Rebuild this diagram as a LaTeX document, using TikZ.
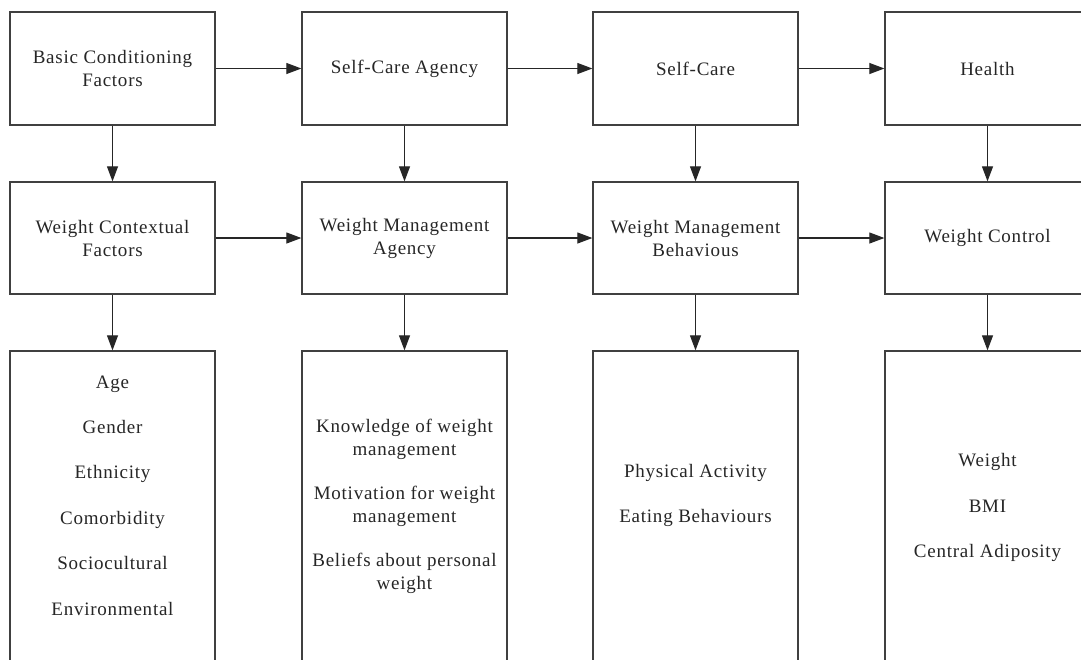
\documentclass[tikz,border=0pt]{standalone}
\usepackage{fontspec}
\setmainfont{Liberation Serif}[LetterSpace=4]
\usetikzlibrary{arrows.meta}
\begin{document}
\begin{tikzpicture}[x=1pt,y=-1pt,
  box/.style={draw=black!75,line width=1.3pt,minimum width=205pt,inner sep=0pt,
    font=\fontsize{19pt}{23pt}\selectfont,align=center,text=black!85},
  toprow/.style={box,minimum height=113pt},
  midrow/.style={box,minimum height=112pt},
  botrow/.style={box,minimum height=369pt},
  lbl/.style={font=\fontsize{19pt}{23pt}\selectfont,align=center,text=black!85,inner sep=0pt},
  arr/.style={draw=black!85,line width=1.1pt,-{Triangle[length=15pt,width=11pt]}}]
\clip (0,0) rectangle (1081,659);
\fill[white] (0,0) rectangle (1081,659);
% top row
\node[toprow] (a1) at (112.5,68.5) {Basic Conditioning\\Factors};
\node[toprow] (a2) at (404.5,68.5) {Self-Care Agency};
\node[toprow] (a3) at (695.5,68.5) {Self-Care};
\node[toprow] (a4) at (987.5,68.5) {Health};
% middle row
\node[midrow] (b1) at (112.5,238) {Weight Contextual\\Factors};
\node[midrow] (b2) at (404.5,238) {Weight Management\\Agency};
\node[midrow] (b3) at (695.5,238) {Weight Management\\Behavious};
\node[midrow] (b4) at (987.5,238) {Weight Control};
% bottom row
\node[botrow] (c1) at (112.5,535.5) {};
\node[botrow] (c2) at (404.5,535.5) {};
\node[botrow] (c3) at (695.5,535.5) {};
\node[botrow] (c4) at (987.5,535.5) {};
\node[lbl] (t1) at (112.5,495.5) {Age\\[22.4pt]Gender\\[22.4pt]Ethnicity\\[22.4pt]Comorbidity\\[22.4pt]Sociocultural\\[22.4pt]Environmental};
\node[lbl] (t2) at (404.5,506) {Knowledge of weight\\management\\[21pt]Motivation for weight\\management\\[21pt]Beliefs about personal\\weight};
\node[lbl] (t3) at (695.5,495.5) {Physical Activity\\[22pt]Eating Behaviours};
\node[lbl] (t4) at (987.5,507.5) {Weight\\[22.5pt]BMI\\[22.5pt]Central Adiposity};
% horizontal arrows
\draw[arr] (a1) -- (a2);
\draw[arr] (a2) -- (a3);
\draw[arr] (a3) -- (a4);
\draw[arr] (b1) -- (b2);
\draw[arr] (b2) -- (b3);
\draw[arr] (b3) -- (b4);
% vertical arrows
\foreach \i in {1,2,3,4}{
  \draw[arr] (a\i) -- (b\i);
  \draw[arr] (b\i) -- (c\i);
}
\end{tikzpicture}
\end{document}
